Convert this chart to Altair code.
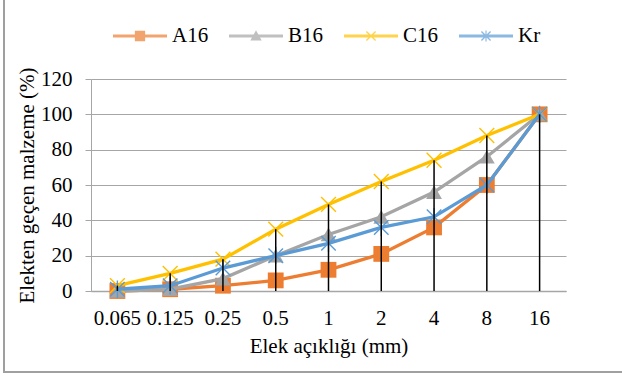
import altair as alt
import pandas as pd

sizes = ["0.065", "0.125", "0.25", "0.5", "1", "2", "4", "8", "16"]
a16 = [0, 1, 3, 6, 12, 21, 36, 60, 100]
b16 = [0, 1, 7, 20, 32, 42, 56, 76, 100]
c16 = [3, 10, 18, 35, 49, 62, 74, 88, 100]
kr = [1, 3, 13, 20, 27, 36, 42, 60, 100]
series = ["A16", "B16", "C16", "Kr"]
colors = ["#ED7D31", "#A5A5A5", "#FFC000", "#5B9BD5"]

rows = []
for name, vals in zip(series, [a16, b16, c16, kr]):
    for s, v in zip(sizes, vals):
        rows.append({"size": s, "value": v, "series": name})
df = pd.DataFrame(rows)

FONT = "Liberation Serif"
FS = 21
GRID = "#A6A6A6"
Y_TITLE = "Elekten geçen malzeme (%)"

color_scale = alt.Scale(domain=series, range=colors)
y_scale = alt.Scale(domain=[0, 120], nice=False)
y_axis = alt.Axis(
    values=[0, 20, 40, 60, 80, 100, 120], tickSize=6, tickColor=GRID,
    domainColor=GRID, gridColor=GRID, gridWidth=1.2, labelPadding=13,
    titlePadding=3, labelOverlap=False,
)
x_enc = alt.X(
    "size:N",
    sort=sizes,
    title="Elek açıklığı (mm)",
    axis=alt.Axis(
        labelAngle=0, ticks=False, tickSize=0, labelPadding=16, domainColor=GRID,
        domainWidth=1.5, titlePadding=7, grid=False, labelOverlap=False,
    ),
)
y_enc = alt.Y("value:Q", title=Y_TITLE, scale=y_scale, axis=y_axis)

X_PATH = "M-1,-1L1,1M-1,1L1,-1"
AST_PATH = "M-1,-1L1,1M-1,1L1,-1M0,-1.2L0,1.2"
marker_specs = {
    "A16": dict(shape="square", filled=True, size=250),
    "B16": dict(shape="triangle-up", filled=True, size=250),
    "C16": dict(shape=X_PATH, filled=False, size=220, strokeWidth=1.4),
    "Kr": dict(shape=AST_PATH, filled=False, size=210, strokeWidth=1.4),
}

layers = []
for name, col in zip(series, colors):
    base = alt.Chart(df).transform_filter(alt.datum.series == name)
    layers.append(base.mark_line(strokeWidth=3.3, color=col).encode(x=x_enc, y=y_enc))
    layers.append(
        base.mark_point(opacity=1, color=col, **marker_specs[name]).encode(x=x_enc, y=y_enc)
    )

rules = alt.Chart(df).mark_rule(color="black", strokeWidth=1.5).encode(
    x=x_enc,
    y=alt.Y("max(value):Q", title=Y_TITLE, scale=y_scale, axis=y_axis),
    y2=alt.datum(0),
)

# legend symbols: line + marker combined paths (unit = half of symbol width)
d = 0.018
a = 0.17
line_p = "M-1,-0.055H1V0.055H-1Z"
diag1 = f"M{-a+d},{-a-d}L{a+d},{a-d}L{a-d},{a+d}L{-a-d},{-a+d}Z"
diag2 = f"M{-a-d},{a-d}L{a-d},{-a-d}L{a+d},{-a+d}L{-a+d},{a+d}Z"
vbar = "M-0.022,-0.2H0.022V0.2H-0.022Z"
legend_shapes = [
    line_p + "M-0.19,-0.19H0.19V0.19H-0.19Z",
    line_p + "M0,-0.21L0.21,0.17L-0.21,0.17Z",
    line_p + diag1 + diag2,
    line_p + diag1 + diag2 + vbar,
]
legend_layer = alt.Chart(df).transform_filter("false").mark_point(filled=True).encode(
    x=x_enc, y=y_enc,
    color=alt.Color(
        "series:N", scale=color_scale,
        legend=alt.Legend(
            title=None, orient="none", direction="horizontal", legendX=22, legendY=-70,
            symbolSize=2916, symbolStrokeWidth=0, labelFont=FONT, labelFontSize=FS,
            labelColor="black", labelOffset=5, columnPadding=20,
        ),
    ),
    shape=alt.Shape("series:N", scale=alt.Scale(domain=series, range=legend_shapes)),
)

frame = alt.Chart(df).mark_rect(fill=None, stroke="#A0A0A0", strokeWidth=1.2).encode(
    x=alt.value(-87), x2=alt.value(700), y=alt.value(-120), y2=alt.value(293)
)

chart = (
    alt.layer(frame, *layers, rules, legend_layer)
    .properties(
        width=475, height=212,
        autosize=alt.AutoSizeParams(type="none"),
        padding={"left": 91, "top": 79, "right": 56, "bottom": 87},
        background="white",
    )
    .configure_view(stroke=None)
    .configure_axis(
        labelFont=FONT, labelFontSize=FS, labelColor="black",
        titleFont=FONT, titleFontSize=FS, titleColor="black", titleFontWeight="normal",
    )
)

chart.save("out.html", embed_options={"renderer": "svg", "actions": False})
